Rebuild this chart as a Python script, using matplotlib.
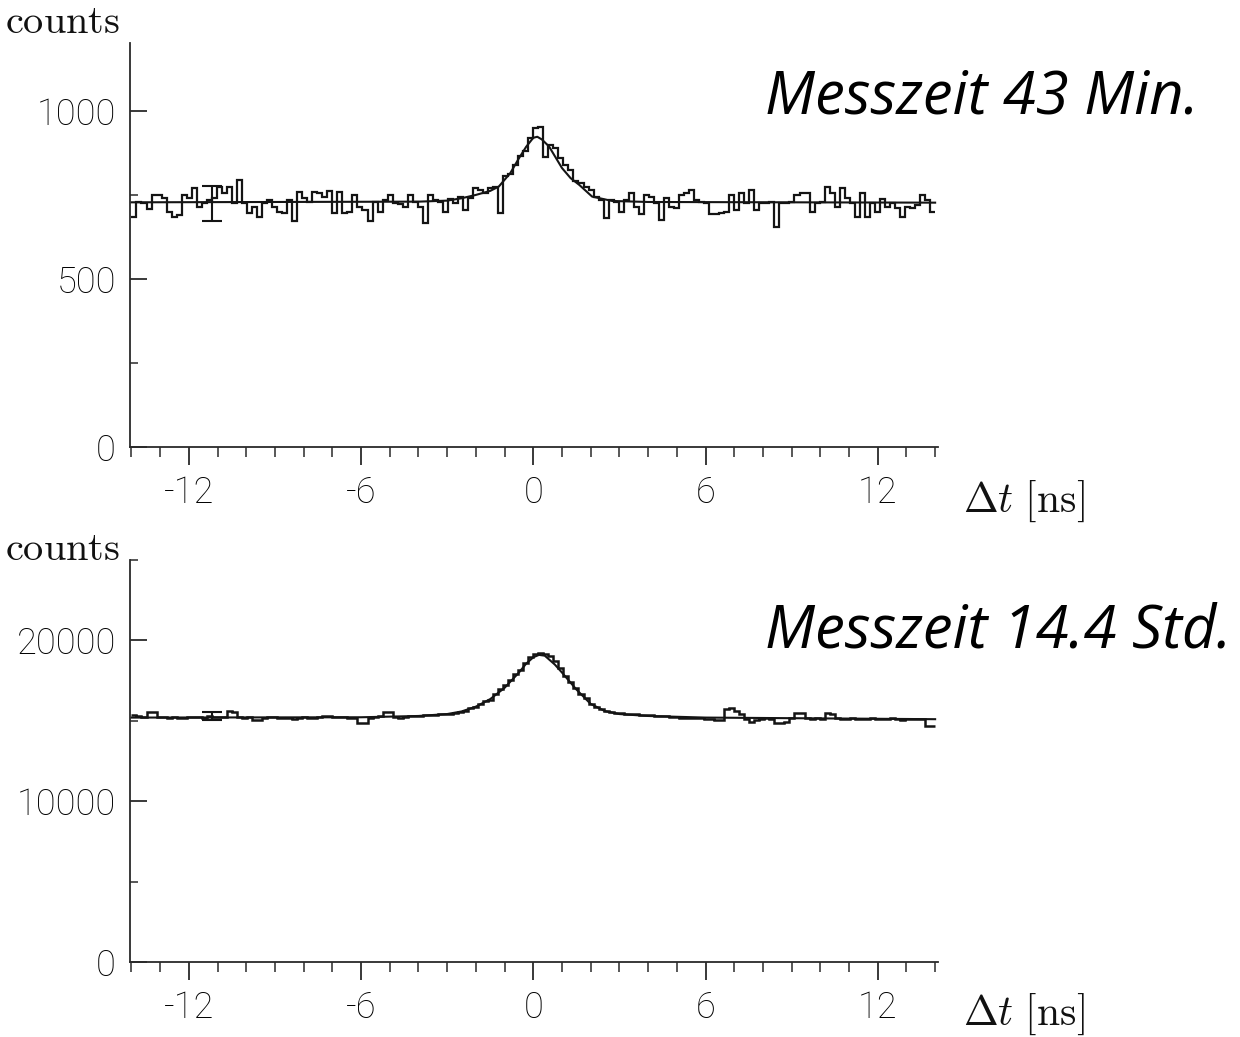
import numpy as np
import matplotlib
matplotlib.use("Agg")
import matplotlib.pyplot as plt
from matplotlib.ticker import MultipleLocator

plt.rcParams["mathtext.fontset"] = "cm"
plt.rcParams["axes.unicode_minus"] = False

# ---- time axis: 160 channels of 0.175 ns from -14 ns to +14 ns ----
bin_start = -14.0
bin_width = 0.175

# ---- short measurement (43 min) ----
counts_short = [
    685, 730, 725, 707, 750, 750, 740, 700, 685, 690, 750, 740, 770, 715, 725, 735,
    740, 775, 755, 775, 725, 793, 725, 695, 715, 685, 725, 735, 715, 700, 695, 735,
    671, 758, 740, 730, 758, 755, 745, 763, 697, 758, 697, 700, 750, 715, 705, 671,
    730, 700, 735, 750, 725, 722, 715, 750, 730, 715, 666, 750, 735, 730, 700, 737,
    725, 745, 705, 740, 772, 765, 755, 770, 775, 695, 805, 812, 840, 866, 880, 920,
    948, 953, 864, 899, 889, 859, 839, 824, 790, 785, 775, 765, 745, 735, 681, 735,
    730, 700, 735, 755, 715, 692, 750, 745, 725, 675, 740, 715, 710, 750, 755, 765,
    735, 730, 725, 692, 692, 695, 700, 750, 705, 755, 725, 765, 705, 725, 725, 730,
    655, 725, 725, 730, 750, 755, 755, 700, 725, 730, 775, 755, 715, 770, 740, 725,
    685, 755, 685, 725, 700, 737, 715, 725, 710, 685, 715, 710, 720, 750, 735, 700,
]
fit_short_t = [-14, -4, -3, -2.5, -2, -1.5, -1.2, -0.8, -0.5, -0.25, 0, 0.14, 0.3,
               0.55, 1.0, 1.3, 1.6, 2.05, 2.75, 4, 14]
fit_short_y = [728, 730, 733, 740, 750, 762, 775, 815, 859, 893, 920, 923, 915,
               894, 830, 800, 780, 745, 732, 729, 727]
err_short_t, err_short_y, err_short_e = -11.2, 725, 52

# ---- long measurement (14.4 h) ----
counts_long = [
    15350, 15300, 15250, 15520, 15520, 15250, 15230, 15200, 15220, 15180, 15150, 15260,
    15240, 15220, 15200, 15280, 15250, 15220, 15240, 15580, 15560, 15230, 15200, 15220,
    15020, 15050, 15200, 15250, 15230, 15160, 15200, 15180, 15100, 15170, 15230, 15200,
    15150, 15230, 15280, 15300, 15250, 15230, 15220, 15200, 15150, 14850, 14880, 15180,
    15250, 15300, 15550, 15530, 15250, 15200, 15230, 15280, 15300, 15320, 15330, 15350,
    15380, 15400, 15420, 15450, 15480, 15560, 15600, 15800, 15880, 16050, 16250, 16300,
    16650, 16950, 17200, 17550, 17900, 18150, 18600, 18950, 19150, 19200, 19150, 19050,
    18750, 18300, 17800, 17400, 17050, 16650, 16400, 16050, 15850, 15750, 15600, 15550,
    15500, 15460, 15450, 15420, 15400, 15380, 15350, 15330, 15300, 15300, 15280, 15250,
    15230, 15200, 15180, 15150, 15170, 15150, 15120, 15100, 15050, 15080, 15750, 15780,
    15600, 15400, 15100, 14900, 15050, 15120, 15150, 15100, 14880, 14870, 14900, 15150,
    15500, 15480, 15150, 15120, 15150, 15130, 15480, 15450, 15150, 15120, 15100, 15150,
    15130, 15100, 15120, 15150, 15130, 15100, 15120, 15150, 15100, 15080, 15100, 15120,
    15130, 15100, 14650, 14700,
]
fit_long_t = [-14, -6, -4, -3, -2.5, -2, -1.5, -1, -0.5, -0.25, 0, 0.2, 0.4, 0.75,
              1, 1.5, 2, 2.5, 3, 4, 6, 14]
fit_long_y = [15200, 15220, 15300, 15420, 15580, 15880, 16350, 17050, 18000, 18550,
              18950, 19100, 19050, 18500, 18000, 16950, 16050, 15600, 15420, 15300,
              15200, 15100]
err_long_t, err_long_y, err_long_e = -11.2, 15290, 260

x_major, x_minor = 6, 1
tick_font = ["Roboto", "DejaVu Sans"]
ink = "#141414"

W, H = 1240, 1037
fig = plt.figure(figsize=(W / 100, H / 100), dpi=100)
fig.patch.set_facecolor("white")


def make_axes(x0, y_bottom, y_top):
    return fig.add_axes([x0 / W, 1 - y_bottom / H, (938 - x0) / W, (y_bottom - y_top) / H])


def style(ax, ymax, ymajor, yminor):
    ax.set_xlim(-14.05, 14.1)
    ax.set_ylim(0, ymax)
    for s in ("top", "right"):
        ax.spines[s].set_visible(False)
    for s in ("left", "bottom"):
        ax.spines[s].set_linewidth(1.3)
        ax.spines[s].set_color("#2a2a2a")
    ax.xaxis.set_major_locator(MultipleLocator(x_major))
    ax.xaxis.set_minor_locator(MultipleLocator(x_minor))
    ax.yaxis.set_major_locator(MultipleLocator(ymajor))
    ax.yaxis.set_minor_locator(MultipleLocator(yminor))
    ax.tick_params(axis="x", which="major", direction="out", length=13, width=1.3,
                   pad=7, colors="#2a2a2a", labelsize=26)
    ax.tick_params(axis="x", which="minor", direction="out", length=7, width=1.1,
                   colors="#2a2a2a")
    ax.tick_params(axis="y", which="major", direction="in", length=12, width=1.3,
                   pad=10, colors="#2a2a2a", labelsize=26)
    ax.tick_params(axis="y", which="minor", direction="in", length=6, width=1.1,
                   colors="#2a2a2a")
    for lab in ax.get_xticklabels() + ax.get_yticklabels():
        lab.set_family(tick_font)
        lab.set_weight("light")
        lab.set_color("#000000")


edges = bin_start + bin_width * np.arange(len(counts_short) + 1)

# upper panel
ax1 = make_axes(130, 447, 43)
ax1.stairs(counts_short, edges, baseline=None, color=ink, lw=1.6)
ax1.plot(fit_short_t, fit_short_y, color=ink, lw=1.5)
ax1.errorbar([err_short_t], [err_short_y], yerr=[err_short_e], fmt="none",
             ecolor=ink, elinewidth=1.5, capsize=7.5, capthick=1.5)
style(ax1, 1202, 500, 250)

# lower panel
ax2 = make_axes(130, 962, 560)
ax2.stairs(counts_long, edges, baseline=None, color=ink, lw=1.8)
ax2.plot(fit_long_t, fit_long_y, color=ink, lw=1.5)
ax2.errorbar([err_long_t], [err_long_y], yerr=[err_long_e], fmt="none",
             ecolor=ink, elinewidth=1.5, capsize=7.5, capthick=1.5)
style(ax2, 25000, 10000, 5000)

# axis captions in TeX style
for yb in (33, 560):
    fig.text(5 / W, 1 - yb / H, r"$\mathrm{counts}$", fontsize=29, color="#111111",
             ha="left", va="baseline")
for yb in (512, 1025):
    fig.text(963 / W, 1 - yb / H, r"$\Delta t\ [\mathrm{ns}]$", fontsize=30,
             color="#111111", ha="left", va="baseline")

# measurement durations
fig.text(765 / W, 1 - 113 / H, "Messzeit 43 Min.", fontsize=43, style="italic",
         family=["Open Sans", "DejaVu Sans"], color="black", ha="left", va="baseline")
fig.text(765 / W, 1 - 647 / H, "Messzeit 14.4 Std.", fontsize=43, style="italic",
         family=["Open Sans", "DejaVu Sans"], color="black", ha="left", va="baseline")

fig.savefig("out.png", dpi=100, facecolor="white")
